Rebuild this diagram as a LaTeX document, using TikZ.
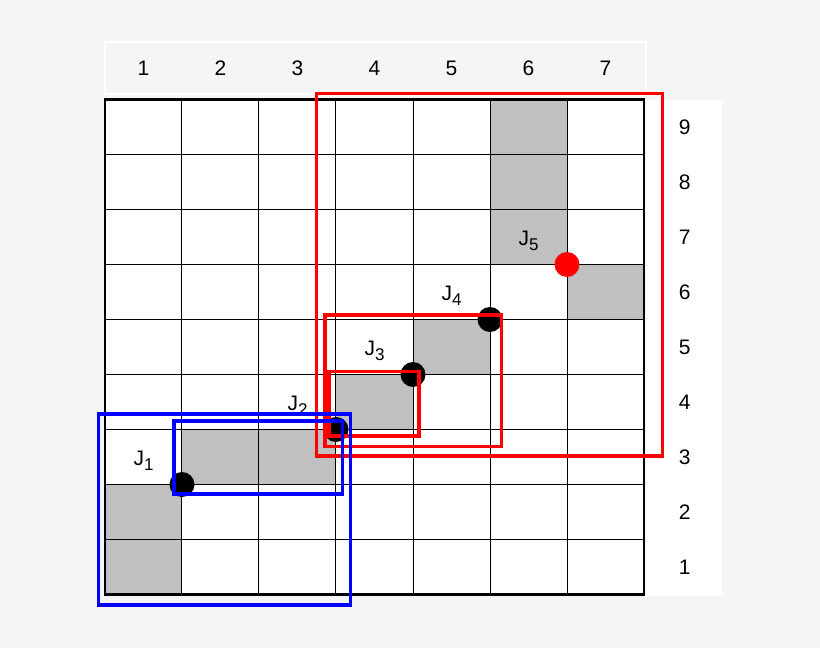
\documentclass[tikz,border=0pt]{standalone}
\usepackage{fontspec}
\setmainfont{Liberation Sans}
\usetikzlibrary{positioning}
\definecolor{bggray}{HTML}{F5F5F5}
\definecolor{cellgray}{HTML}{C0C0C0}
\newcommand{\jsub}[1]{J\raisebox{-2.5pt}{\fontsize{8.5}{10}\selectfont #1}}
\tikzset{
  num/.style={
      font=\fontsize{10.5}{12}\selectfont,
      inner sep=0pt,
      anchor=base
    },
  lbl/.style={
      font=\fontsize{10.5}{12}\selectfont,
      inner sep=0pt,
      anchor=base
    },
  shade/.style={
      fill=cellgray
    },
  dot/.style={
      circle,
      fill=black,
      minimum size=12.5pt,
      inner sep=0pt
    },
  hot/.style={
      dot,
      fill=red
    },
  redbox/.style={
      draw=red,
      line width=1.7pt
    },
  bluebox/.style={
      draw=blue,
      line width=1.6pt
    }
}

\begin{document}
\begin{tikzpicture}[x=38.5pt, y=27.5pt]
  \fill[bggray] (-1.3636,-0.9727) rectangle (9.2857,10.809);
  \useasboundingbox (-1.3636,-0.9727) rectangle (9.2857,10.809);
  % label strips
  \draw[white, line width=1pt] (0,9.1) rectangle (7.03,10.045);
  \fill[white] (7.03,-0.03) rectangle (8.01,8.99);
  % board
  \fill[white] (0,0) rectangle (7,9);
  \foreach \i/\j in {0/0,0/1,1/2,2/2,3/3,4/4,5/6,5/7,5/8,6/5}
    \fill[shade] (\i,\j) rectangle ++(1,1);
  \draw[step=1, line width=0.5pt] (0,0) grid (7,9);
  \draw[line width=1.3pt] (0,0) rectangle (7,9);
  \foreach \i in {1,...,7}
    \node[num] (c\i) at (\i-0.5,9.43) {\i};
  \foreach \j in {1,...,9}
    \node[num] (r\j) at (7.53,\j-0.64) {\j};
  % joints
  \node[dot] (j1) at (1,2) {};
  \node[dot] (j2) at (3,3) {};
  \node[dot] (j3) at (4,4) {};
  \node[dot] (j4) at (5,5) {};
  \node[hot] (j5) at (6,6) {};
  \foreach \k/\x/\y in {1/1/2,2/3/3,3/4/4,4/5/5,5/6/6}
    \node[lbl] (t\k) at (\x-0.5,\y+0.35) {\jsub{\k}};
  % windows
  \draw[redbox] (2.75,2.52) rectangle (7.24,9.11);
  \draw[redbox] (2.857,2.687) rectangle (5.15,5.08);
  \draw[redbox] (2.91,2.88) rectangle (4.08,4.05);
  \draw[bluebox] (-0.087,-0.19) rectangle (3.19,3.28);
  \draw[bluebox] (0.896,1.827) rectangle (3.08,3.155);
\end{tikzpicture}
\end{document}
